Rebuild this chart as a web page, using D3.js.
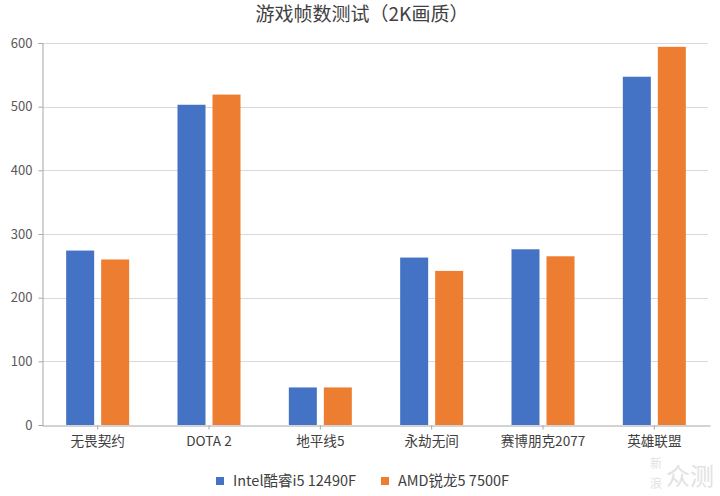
<!DOCTYPE html>
<html>
<head>
<meta charset="utf-8">
<script src="https://cdn.jsdelivr.net/npm/d3@7"></script>
<style>
  body { margin: 0; background: #fff; }
  svg { display: block; font-family: "Noto Sans CJK SC", "Microsoft YaHei", sans-serif; }
</style>
</head>
<body>
<div id="chart"></div>
<script>
// data
var categories = ['无畏契约', 'DOTA 2', '地平线5', '永劫无间', '赛博朋克2077', '英雄联盟'];
var seriesNames = ['Intel酷睿i5 12490F', 'AMD锐龙5 7500F'];
var intelValues = [274, 503, 59, 263, 276, 547];
var amdValues = [260, 519, 59, 242, 265, 594];
var yTicks = [0, 100, 200, 300, 400, 500, 600];
var colors = ['#4472c4', '#ed7d31'];

var width = 720, height = 496;
var margin = {top: 43, right: 10, bottom: 71, left: 42};

var svg = d3.select('#chart').append('svg')
    .attr('width', width).attr('height', height);

var x = d3.scaleBand().domain(categories)
    .range([margin.left, width - margin.right]);
var y = d3.scaleLinear().domain([0, 600])
    .range([height - margin.bottom, margin.top]);

var rows = categories.map(function(c, i) {
    return {cat: c, values: [intelValues[i], amdValues[i]]};
});

// title
svg.append('text')
    .attr('x', 362).attr('y', 21)
    .attr('text-anchor', 'middle')
    .style('font-size', '19px').style('fill', '#404040')
    .text('游戏帧数测试（2K画质）');

// grid lines
svg.append('g').selectAll('line').data(yTicks.slice(1)).enter().append('line')
    .attr('x1', margin.left).attr('x2', width - margin.right - 2)
    .attr('y1', function(d) { return Math.round(y(d)) + 0.5; })
    .attr('y2', function(d) { return Math.round(y(d)) + 0.5; })
    .style('stroke', '#d9d9d9').style('stroke-width', 1);

// y axis
var yAxis = svg.append('g')
    .attr('transform', 'translate(' + (margin.left + 0.5) + ',0)')
    .call(d3.axisLeft(y).tickValues(yTicks).tickSize(4).tickPadding(6));
yAxis.select('.domain').style('stroke', '#a6a6a6');
yAxis.selectAll('.tick line').style('stroke', '#a6a6a6');
yAxis.selectAll('text').style('font-size', '13px').style('fill', '#595959')
    .style('font-family', '"Noto Sans CJK SC", sans-serif');

// bars
var bw = 28, gap = 7;
var groups = svg.append('g').selectAll('g').data(rows).enter().append('g')
    .attr('transform', function(d) {
        return 'translate(' + (x(d.cat) + x.bandwidth() / 2) + ',0)';
    });
groups.selectAll('rect').data(function(d) { return d.values; }).enter().append('rect')
    .attr('x', function(d, i) { return i === 0 ? -gap / 2 - bw : gap / 2; })
    .attr('width', bw)
    .attr('y', function(d) { return y(d); })
    .attr('height', function(d) { return y(0) - y(d); })
    .style('fill', function(d, i) { return colors[i]; });

// x axis
var xAxis = svg.append('g')
    .attr('transform', 'translate(0,' + (Math.round(y(0)) + 0.5) + ')')
    .call(d3.axisBottom(x).tickSize(4).tickPadding(7).tickSizeOuter(0));
xAxis.select('.domain').style('stroke', '#a6a6a6');
xAxis.selectAll('.tick line').style('stroke', '#a6a6a6');
xAxis.selectAll('text').style('font-size', '13.6px').style('fill', '#404040')
    .style('font-family', '"Noto Sans CJK SC", sans-serif');

// legend
var legend = svg.append('g').attr('transform', 'translate(0,481)');
var legendX = [216, 381];
seriesNames.forEach(function(name, i) {
    legend.append('rect')
        .attr('x', legendX[i]).attr('y', -4)
        .attr('width', 8).attr('height', 8)
        .style('fill', colors[i]);
    legend.append('text')
        .attr('x', legendX[i] + 17).attr('y', 0)
        .attr('dy', '.35em')
        .style('font-size', '14.5px').style('fill', '#404040')
        .text(name);
});

// watermark
var wm = svg.append('g').style('fill', '#e2e2e2');
wm.append('text').attr('x', 650).attr('y', 468).style('font-size', '12px').text('新');
wm.append('text').attr('x', 650).attr('y', 488).style('font-size', '12px').text('浪');
wm.append('text').attr('x', 666).attr('y', 485).style('font-size', '24px').text('众测');
</script>
</body>
</html>
